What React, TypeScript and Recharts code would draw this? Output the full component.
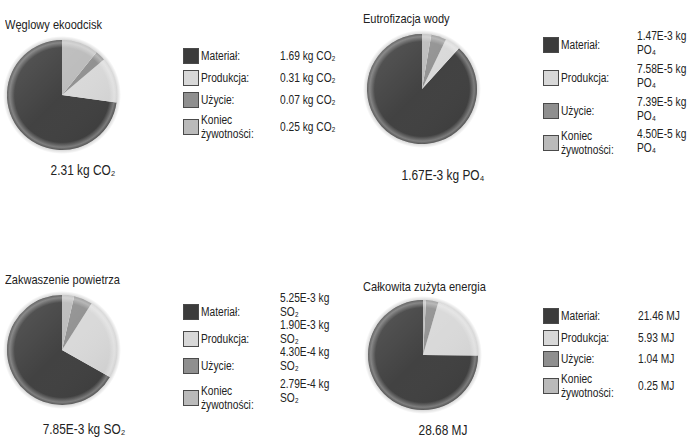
import React from 'react';
import { PieChart, Pie, Cell } from 'recharts';

// legend categories and slice colours, same for all four panels
const categories = ['Materiał:', 'Produkcja:', 'Użycie:', 'Koniec żywotności:'];
const sliceColors = ['#3c3c3c', '#d8d8d8', '#8f8f8f', '#bababa'];

const titles = ['Węglowy ekoodcisk', 'Eutrofizacja wody', 'Zakwaszenie powietrza', 'Całkowita zużyta energia'];
const totals = ['2.31 kg CO₂', '1.67E-3 kg PO₄', '7.85E-3 kg SO₂', '28.68 MJ'];

const carbonValues = [1.69, 0.31, 0.07, 0.25];
const carbonLabels = ['1.69 kg CO₂', '0.31 kg CO₂', '0.07 kg CO₂', '0.25 kg CO₂'];

const waterValues = [1.47e-3, 7.58e-5, 7.39e-5, 4.5e-5];
const waterLabels = ['1.47E-3 kg PO₄', '7.58E-5 kg PO₄', '7.39E-5 kg PO₄', '4.50E-5 kg PO₄'];

const airValues = [5.25e-3, 1.9e-3, 4.3e-4, 2.79e-4];
const airLabels = ['5.25E-3 kg SO₂', '1.90E-3 kg SO₂', '4.30E-4 kg SO₂', '2.79E-4 kg SO₂'];

const energyValues = [21.46, 5.93, 1.04, 0.25];
const energyLabels = ['21.46 MJ', '5.93 MJ', '1.04 MJ', '0.25 MJ'];

const shadeData = [{ name: 'shade', value: 1 }];

const FONT = '"Liberation Sans", Arial, sans-serif';
const SQUEEZE = 'scaleX(0.85)'; // the original uses a condensed face
const R = 55;

// layout of each panel (positions only)
const panels = [
  {
    values: carbonValues, labels: carbonLabels, title: titles[0], total: totals[0],
    cx: 62, cy: 95, titleX: 5, titleY: 25, totalX: 83, totalY: 170,
    swatchX: 183, labelX: 201, valueX: 280, twoLine: false, valueShift: 0,
    rows: [56, 78, 100, 127],
  },
  {
    values: waterValues, labels: waterLabels, title: titles[1], total: totals[1],
    cx: 422, cy: 89, titleX: 363, titleY: 19, totalX: 443, totalY: 175,
    swatchX: 543, labelX: 561, valueX: 637, twoLine: true, valueShift: -2,
    rows: [45, 78, 111, 143],
  },
  {
    values: airValues, labels: airLabels, title: titles[2], total: totals[2],
    cx: 62, cy: 350, titleX: 5, titleY: 280, totalX: 84, totalY: 429,
    swatchX: 183, labelX: 201, valueX: 280, twoLine: true, valueShift: -7,
    rows: [312, 339, 366, 398],
  },
  {
    values: energyValues, labels: energyLabels, title: titles[3], total: totals[3],
    cx: 423, cy: 355, titleX: 363, titleY: 287, totalX: 443, totalY: 430,
    swatchX: 543, labelX: 561, valueX: 638, twoLine: false, valueShift: 0,
    rows: [316, 338, 359, 386],
  },
];

const LH = 14;

const block = (x: number, y: number, lines: number, extra: React.CSSProperties = {}) => ({
  position: 'absolute' as const,
  left: x,
  top: y - (lines * LH) / 2,
  lineHeight: `${LH}px`,
  fontSize: 12,
  color: '#222',
  transform: SQUEEZE,
  transformOrigin: 'left center',
  ...extra,
});

export default function App() {
  return (
    <div
      style={{
        position: 'absolute', left: 0, top: 0, width: 692, height: 437,
        background: '#fff', overflow: 'hidden', fontFamily: FONT,
      }}
    >
      <div style={{ position: 'absolute', left: 0, top: 0 }}>
        <PieChart width={692} height={437} margin={{ top: 0, right: 0, bottom: 0, left: 0 }}>
          <defs>
            <radialGradient id="halo" cx="50%" cy="50%" r="50%">
              <stop offset="0.9" stopColor="#000" stopOpacity={0.22} />
              <stop offset="1" stopColor="#000" stopOpacity={0} />
            </radialGradient>
            <radialGradient id="rim" cx="50%" cy="50%" r="50%">
              <stop offset="0" stopColor="#fff" stopOpacity={0} />
              <stop offset="0.86" stopColor="#fff" stopOpacity={0} />
              <stop offset="0.95" stopColor="#fff" stopOpacity={0.32} />
              <stop offset="1" stopColor="#fff" stopOpacity={0.12} />
            </radialGradient>
            <linearGradient id="light" x1="0" y1="0" x2="1" y2="1">
              <stop offset="0" stopColor="#fff" stopOpacity={0.16} />
              <stop offset="0.5" stopColor="#fff" stopOpacity={0.03} />
              <stop offset="1" stopColor="#000" stopOpacity={0.1} />
            </linearGradient>
          </defs>
          {panels.map((p, k) => (
            <Pie
              key={`halo-${k}`}
              data={shadeData}
              dataKey="value"
              cx={p.cx}
              cy={p.cy}
              innerRadius={R - 1}
              outerRadius={R + 4}
              fill="url(#halo)"
              stroke="none"
              legendType="none"
              isAnimationActive={false}
            />
          ))}
          {panels.map((p, k) => (
            <Pie
              key={`pie-${k}`}
              data={categories.map((name, i) => ({ name, value: p.values[i] }))}
              dataKey="value"
              nameKey="name"
              cx={p.cx}
              cy={p.cy}
              outerRadius={R}
              startAngle={90}
              endAngle={450}
              stroke="none"
              isAnimationActive={false}
            >
              {categories.map((c, i) => (
                <Cell key={c} fill={sliceColors[i]} />
              ))}
            </Pie>
          ))}
          {panels.map((p, k) => (
            <Pie
              key={`light-${k}`}
              data={shadeData}
              dataKey="value"
              cx={p.cx}
              cy={p.cy}
              outerRadius={R}
              fill="url(#light)"
              stroke="none"
              legendType="none"
              isAnimationActive={false}
            />
          ))}
          {panels.map((p, k) => (
            <Pie
              key={`rim-${k}`}
              data={shadeData}
              dataKey="value"
              cx={p.cx}
              cy={p.cy}
              outerRadius={R}
              fill="url(#rim)"
              stroke="none"
              legendType="none"
              isAnimationActive={false}
            />
          ))}
        </PieChart>
      </div>

      {panels.map((p, k) => (
        <React.Fragment key={`txt-${k}`}>
          <div style={block(p.titleX, p.titleY, 1, { fontSize: 13, whiteSpace: 'nowrap' })}>{p.title}</div>
          <div
            style={block(p.totalX - 80, p.totalY, 1, {
              fontSize: 14, width: 160, textAlign: 'center', whiteSpace: 'nowrap', transformOrigin: 'center',
            })}
          >
            {p.total}
          </div>
          {categories.map((c, i) => {
            const y = p.rows[i];
            const twoLineLabel = c.includes(' ');
            return (
              <React.Fragment key={c}>
                <div
                  style={{
                    position: 'absolute', left: p.swatchX, top: y - 8, width: 14, height: 14,
                    background: sliceColors[i], border: '1px solid #4a4a4a',
                  }}
                />
                <div style={block(p.labelX, y, twoLineLabel ? 2 : 1, { width: 72 })}>{c}</div>
                <div
                  style={block(p.valueX, y + p.valueShift, p.twoLine ? 2 : 1, {
                    width: p.twoLine ? 72 : 110,
                    whiteSpace: p.twoLine ? 'normal' : 'nowrap',
                  })}
                >
                  {p.labels[i]}
                </div>
              </React.Fragment>
            );
          })}
        </React.Fragment>
      ))}
    </div>
  );
}
